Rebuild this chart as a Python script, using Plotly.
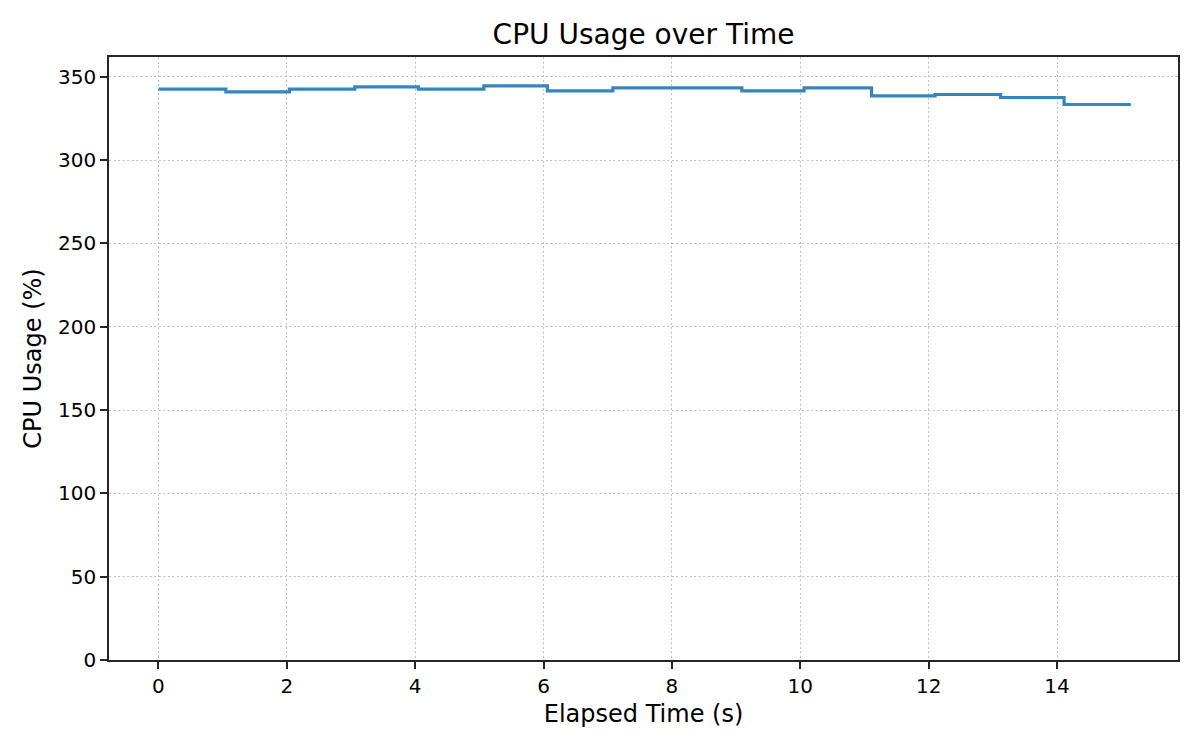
import plotly.graph_objects as go

# sample times (s) and cpu usage (%)
elapsed_s = [0.0, 1.05, 2.04, 3.06, 4.05, 5.07, 6.06, 7.08, 8.08,
             9.09, 10.06, 11.11, 12.10, 13.12, 14.11, 15.15]
cpu_pct = [342.6, 341.0, 342.6, 344.0, 342.6, 344.6, 341.6, 343.4, 343.4,
           341.6, 343.4, 338.6, 339.4, 337.6, 333.4, 333.4]

x_ticks = [0, 2, 4, 6, 8, 10, 12, 14]
y_ticks = [0, 50, 100, 150, 200, 250, 300, 350]

FONT = "DejaVu Sans"


def plot():
    fig = go.Figure()
    fig.add_trace(go.Scatter(
        x=elapsed_s, y=cpu_pct, mode="lines",
        line=dict(shape="hv", color="#3586c0", width=3.2),
        showlegend=False,
    ))

    axis_style = dict(
        showline=True, mirror=True, linecolor="#262626", linewidth=1.6,
        ticks="outside", ticklen=7, tickwidth=1.6, tickcolor="#262626",
        showgrid=True, gridcolor="#c2c2c2", gridwidth=1.4, griddash="2px,2.5px",
        zeroline=False, tickfont=dict(family=FONT, size=20, color="black"),
    )

    # page body has an 8px margin, so the figure is shrunk by that much
    fig.update_layout(
        width=1192, height=742,
        paper_bgcolor="white", plot_bgcolor="white",
        margin=dict(l=101, r=22, t=49, b=90),
        font=dict(family=FONT, color="black"),
        title=dict(text="CPU Usage over Time", x=0.5, xanchor="center",
                   xref="paper", y=1 - 26 / 742, yanchor="middle",
                   font=dict(family=FONT, size=28, color="black")),
        xaxis=dict(axis_style, range=[-0.77, 15.885], tickvals=x_ticks,
                   title=dict(text="Elapsed Time (s)", standoff=8,
                              font=dict(family=FONT, size=24))),
        yaxis=dict(axis_style, range=[0, 361.9], tickvals=y_ticks,
                   title=dict(text="CPU Usage (%)", standoff=10,
                              font=dict(family=FONT, size=24))),
    )
    fig.write_html("out.html")


if __name__ == '__main__':
    plot()
